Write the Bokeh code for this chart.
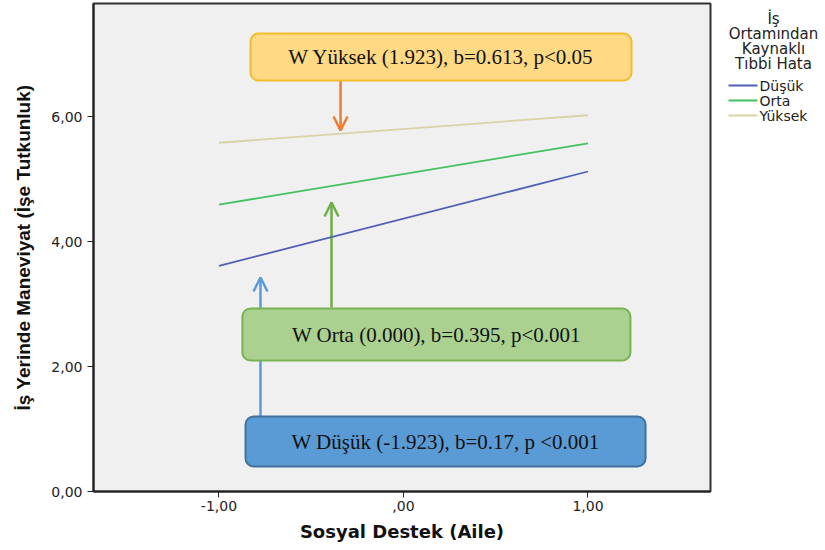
from bokeh.plotting import figure
from bokeh.models import Range1d, Label, Arrow, OpenHead, FixedTicker, BoxAnnotation
from bokeh.layouts import row
from bokeh.embed import file_html
from bokeh.resources import INLINE

# ---- data ----
x_vals = [-1.0, 1.0]
dusuk = [3.61, 5.12]
orta = [4.59, 5.57]
yuksek = [5.58, 6.02]
series_names = ["Düşük", "Orta", "Yüksek"]
series_colors = ["#4F60B2", "#43C062", "#D9D3A6"]
x_ticks = [-1, 0, 1]
x_tick_labels = ["-1,00", ",00", "1,00"]
y_ticks = [0, 2, 4, 6]
y_tick_labels = ["0,00", "2,00", "4,00", "6,00"]
legend_title = ["İş", "Ortamından", "Kaynaklı", "Tıbbi Hata"]

callout_texts = ["W Yüksek (1.923), b=0.613, p<0.05",
                 "W Orta (0.000), b=0.395, p<0.001",
                 "W Düşük (-1.923), b=0.17, p <0.001"]

H = 545
p = figure(width=720, height=H, output_backend="svg", toolbar_location=None,
           x_range=Range1d(-1.680, 1.664), y_range=Range1d(0, 7.808),
           min_border_left=93, min_border_right=10, min_border_top=3, min_border_bottom=54)
p.background_fill_color = "#F0F0F0"
p.border_fill_color = "white"
p.outline_line_color = "#333333"
p.outline_line_width = 2
p.xgrid.visible = False
p.ygrid.visible = False

for ax in (p.xaxis[0], p.yaxis[0]):
    ax.axis_line_color = "#222222"
    ax.axis_line_width = 2
    ax.major_tick_line_color = "#222222"
    ax.major_tick_out = 6
    ax.major_tick_in = 0
    ax.minor_tick_line_color = None
    ax.major_label_text_font = "DejaVu Sans"
    ax.major_label_text_font_size = "14px"
    ax.major_label_text_color = "#222222"
    ax.axis_label_text_font_style = "bold"
    ax.axis_label_text_color = "#111111"

p.xaxis.ticker = FixedTicker(ticks=x_ticks)
p.xaxis.major_label_overrides = {t: l for t, l in zip(x_ticks, x_tick_labels)}
p.xaxis.major_label_standoff = 3
p.yaxis.ticker = FixedTicker(ticks=y_ticks)
p.yaxis.major_label_overrides = {t: l for t, l in zip(y_ticks, y_tick_labels)}
p.xaxis.axis_label = "Sosyal Destek (Aile)"
p.xaxis.axis_label_text_font = "DejaVu Sans"
p.xaxis.axis_label_text_font_size = "18px"
p.xaxis.axis_label_standoff = 7
p.yaxis.axis_label = "İş Yerinde Maneviyat (İşe Tutkunluk)"
p.yaxis.axis_label_text_font = "Liberation Sans"
p.yaxis.axis_label_text_font_size = "19px"
p.yaxis.axis_label_standoff = 14

for ys, c in zip([dusuk, orta, yuksek], series_colors):
    p.line(x_vals, ys, line_color=c, line_width=1.8)

# ---- callout boxes ----
boxes = [
    dict(l=-0.829, r=1.236, b=6.576, t=7.328, fill="#FFD983", line="#F3BC2A"),
    dict(l=-0.873, r=1.230, b=2.096, t=2.928, fill="#ABD190", line="#79B153"),
    dict(l=-0.856, r=1.312, b=0.400, t=1.200, fill="#5B9BD5", line="#41719C"),
]
for bx, txt in zip(boxes, callout_texts):
    p.add_layout(BoxAnnotation(left=bx["l"], right=bx["r"], bottom=bx["b"], top=bx["t"],
                               fill_color=bx["fill"], fill_alpha=1.0,
                               line_color=bx["line"], line_alpha=1.0, line_width=2,
                               border_radius=8, level="overlay"))
    p.add_layout(Label(x=(bx["l"] + bx["r"]) / 2, y=(bx["b"] + bx["t"]) / 2, text=txt,
                       text_font="Liberation Serif", text_font_size="21px",
                       text_color="#111111", text_align="center", text_baseline="middle",
                       level="overlay"))

# ---- arrows ----
arrows = [
    dict(x=-0.341, y0=6.576, y1=5.776, c="#ED7D31"),
    dict(x=-0.390, y0=2.944, y1=4.624, c="#70AD47"),
    dict(x=-0.775, y0=1.200, y1=3.424, c="#5B9BD5"),
]
for a in arrows:
    p.add_layout(Arrow(x_start=a["x"], y_start=a["y0"], x_end=a["x"], y_end=a["y1"],
                       line_color=a["c"], line_width=2.5,
                       end=OpenHead(size=14, line_color=a["c"], line_width=2.5),
                       level="underlay"))

# ---- legend panel (separate figure to the right; its frame aligns with the main frame) ----
lg = figure(width=105, height=H, output_backend="svg", toolbar_location=None,
            x_axis_type=None, y_axis_type=None,
            x_range=Range1d(720, 825), y_range=Range1d(491, 3),
            min_border_left=0, min_border_right=0, min_border_top=3, min_border_bottom=54)
lg.grid.visible = False
lg.outline_line_color = None
lg.background_fill_color = "white"
lg.border_fill_color = "white"

for i, t in enumerate(legend_title):
    lg.add_layout(Label(x=773, y=18 + 15 * i, text=t, text_font="DejaVu Sans",
                        text_font_size="15px", text_color="#222222", text_align="center",
                        text_baseline="middle"))
for i, (nm, c) in enumerate(zip(series_names, series_colors)):
    yy = 85 + 15 * i
    lg.line([728, 757], [yy, yy], line_color=c, line_width=1.8)
    lg.add_layout(Label(x=759, y=yy, text=nm, text_font="DejaVu Sans",
                        text_font_size="14px", text_color="#222222", text_align="left",
                        text_baseline="middle"))

layout = row(p, lg)
open("out.html", "w").write(file_html(layout, INLINE))
